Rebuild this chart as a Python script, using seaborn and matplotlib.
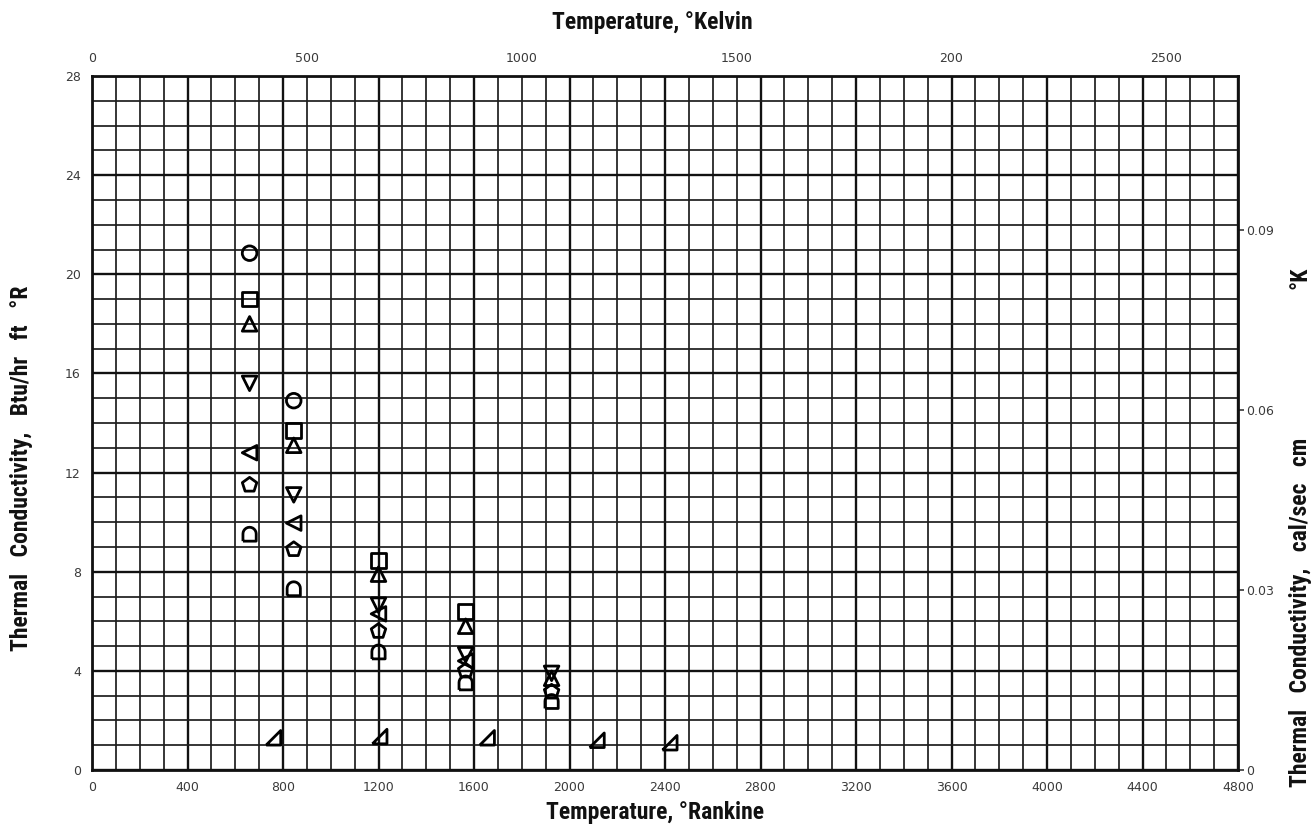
import numpy as np
import pandas as pd
import matplotlib
matplotlib.use("Agg")
import matplotlib.pyplot as plt
import seaborn as sns
from matplotlib.ticker import MultipleLocator, FixedLocator
from matplotlib import font_manager

# ---------------- data ----------------
circle_T = [660, 845]
circle_k = [20.85, 14.9]
square_T = [660, 845, 1200, 1565]
square_k = [19.0, 13.7, 8.45, 6.4]
up_T = [660, 845, 1200, 1565, 1925]
up_k = [18.0, 13.1, 7.9, 5.8, 3.7]
down_T = [660, 845, 1200, 1565, 1925]
down_k = [15.6, 11.1, 6.65, 4.65, 3.9]
left_T = [660, 845, 1200, 1565]
left_k = [12.8, 9.96, 6.3, 4.4]
pent_T = [660, 845, 1200, 1565, 1925]
pent_k = [11.5, 8.9, 5.6, 4.0, 3.15]
arch_T = [660, 845, 1200, 1565, 1925]
arch_k = [9.5, 7.3, 4.75, 3.5, 2.75]
rtri_T = [760, 1205, 1655, 2115, 2420]
rtri_k = [1.3, 1.35, 1.3, 1.2, 1.1]

x_ticks = [0, 400, 800, 1200, 1600, 2000, 2400, 2800, 3200, 3600, 4000, 4400, 4800]
y_ticks = [0, 4, 8, 12, 16, 20, 24, 28]
kelvin_ticks = [0, 500, 1000, 1500, 2000, 2500]
kelvin_labels = ["0", "500", "1000", "1500", "200", "2500"]
cgs_ticks = [0, 0.03, 0.06, 0.09]
cgs_labels = ["0", "0.03", "0.06", "0.09"]

# ---------------- markers ----------------
arch = [(-1, -1), (1, -1), (1, 0.1)] + [(np.cos(a), 0.1 + np.sin(a)) for a in np.linspace(0, np.pi, 13)] + [(-1, 0.1), (-1, -1)]
rtri = [(-1, -1), (1, -1), (1, 1), (-1, -1)]

series = [
    ("circle", circle_T, circle_k, "o", 110),
    ("square", square_T, square_k, "s", 110),
    ("up", up_T, up_k, "^", 110),
    ("down", down_T, down_k, "v", 110),
    ("left", left_T, left_k, "<", 110),
    ("pent", pent_T, pent_k, "p", 120),
    ("arch", arch_T, arch_k, arch, 110),
    ("rtri", rtri_T, rtri_k, rtri, 110),
]

sns.set_theme(style="white")
plt.rcParams["font.family"] = ["DejaVu Sans"]

names = {f.name for f in font_manager.fontManager.ttflist}
cond = None
for cand in ["DejaVu Sans Condensed", "Liberation Sans Narrow", "Roboto Condensed", "Open Sans Condensed"]:
    if cand in names:
        cond = cand
        break

fig = plt.figure(figsize=(13.16, 8.24), dpi=100)
ax = fig.add_axes([92 / 1316, 54 / 824, (1238 - 92) / 1316, (770 - 76) / 824])

for name, T, k, m, s in series:
    df = pd.DataFrame({"T": T, "k": k})
    sns.scatterplot(data=df, x="T", y="k", marker=m, s=s, facecolor="none",
                    edgecolor="black", linewidth=2.0, ax=ax, zorder=5, legend=False)

ax.set_xlim(0, 4800)
ax.set_ylim(0, 28)

# graph-paper grid
ax.xaxis.set_major_locator(FixedLocator(x_ticks))
ax.yaxis.set_major_locator(FixedLocator(y_ticks))
ax.xaxis.set_minor_locator(MultipleLocator(100))
ax.yaxis.set_minor_locator(MultipleLocator(1))
ax.grid(which="major", color="#111111", linewidth=1.7)
ax.grid(which="minor", color="#1e1e1e", linewidth=1.25)
ax.set_axisbelow(True)
for sp in ax.spines.values():
    sp.set_color("#111111")
    sp.set_linewidth(2.0)

tick_col = "#3a3a3a"
ax.tick_params(axis="both", which="both", length=0, labelsize=9, colors=tick_col, pad=8)
ax.set_xticklabels([str(t) for t in x_ticks])
ax.set_yticklabels([str(t) for t in y_ticks])

ax.set_xlabel("")
ax.set_ylabel("")

fam = [cond, "DejaVu Sans"] if cond else ["DejaVu Sans"]
fsz = 17 if cond else 13
title_font = dict(family=fam, fontweight="bold", fontsize=fsz, color="#111111")

# top Kelvin axis
top = ax.secondary_xaxis("top", functions=(lambda r: r / 1.8, lambda kk: kk * 1.8))
top.set_xticks(kelvin_ticks)
top.set_xticklabels(kelvin_labels)
top.tick_params(length=0, labelsize=9, colors=tick_col, pad=8)
for sp in top.spines.values():
    sp.set_visible(False)

# right cgs axis
right = ax.secondary_yaxis("right", functions=(lambda b: b / 241.9, lambda c: c * 241.9))
right.set_yticks(cgs_ticks)
right.set_yticklabels(cgs_labels)
right.tick_params(length=4, width=1.2, labelsize=9, colors=tick_col, pad=2)
for sp in right.spines.values():
    sp.set_visible(False)

fig.text(655 / 1316, 1 - 812 / 824, "Temperature, °Rankine", ha="center", va="center", **title_font)
fig.text(652 / 1316, 1 - 22 / 824, "Temperature, °Kelvin", ha="center", va="center", **title_font)
fig.text(22 / 1316, 1 - 468 / 824, "Thermal   Conductivity,   Btu/hr   ft   °R", ha="center", va="center",
         rotation=90, **title_font)
fig.text(1300 / 1316, 1 - 612 / 824, "Thermal   Conductivity,   cal/sec   cm", ha="center", va="center",
         rotation=90, **title_font)
fig.text(1300 / 1316, 1 - 278 / 824, "°K", ha="center", va="center", rotation=90, **title_font)

fig.savefig("out.png", dpi=100, facecolor="white")
